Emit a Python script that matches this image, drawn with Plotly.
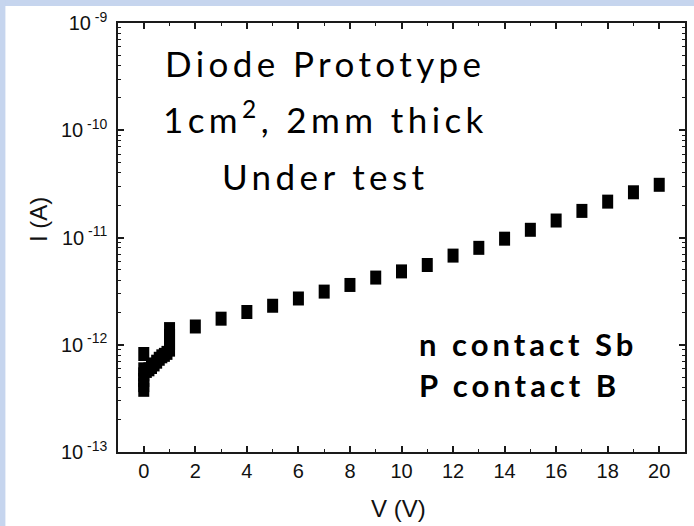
import plotly.graph_objects as go

# ---- data ----
v_low = [0, 0, 0, 0, 0, 0,
         0.1, 0.2, 0.3, 0.4, 0.5, 0.6, 0.7, 0.8, 0.9,
         1, 1, 1, 1]
i_low = [3.8e-13, 4.2e-13, 4.7e-13, 5.3e-13, 5.9e-13, 8.2e-13,
         5.7e-13, 5.9e-13, 6.2e-13, 6.55e-13, 6.95e-13, 7.4e-13, 7.8e-13, 8.05e-13, 8.4e-13,
         9.0e-13, 1.04e-12, 1.21e-12, 1.40e-12]
v_high = [2, 3, 4, 5, 6, 7, 8, 9, 10, 11, 12, 13, 14, 15, 16, 17, 18, 19, 20]
i_high = [1.48e-12, 1.75e-12, 2.02e-12, 2.31e-12, 2.70e-12, 3.13e-12, 3.61e-12, 4.23e-12,
          4.83e-12, 5.54e-12, 6.78e-12, 8.01e-12, 9.75e-12, 1.18e-11, 1.44e-11, 1.77e-11,
          2.16e-11, 2.64e-11, 3.10e-11]

x_ticks = [0, 2, 4, 6, 8, 10, 12, 14, 16, 18, 20]
x_minor = [1, 3, 5, 7, 9, 11, 13, 15, 17, 19]
y_exps = [-13, -12, -11, -10, -9]
y_ticktext = ["10<sup> %d</sup>" % e for e in y_exps]
y_tickvals = [10.0 ** e for e in y_exps]
y_minor = [k * 10.0 ** e for e in y_exps[:-1] for k in range(2, 10)]

title_lines = ["Diode Prototype", "1cm<sup>2</sup>, 2mm thick", "Under test"]
contact_lines = ["n contact Sb", "P contact B"]

# ---- figure ----
V = v_low + v_high
I = i_low + i_high

fig = go.Figure()
fig.add_trace(go.Scatter(
    x=V, y=I, mode="markers",
    marker=dict(symbol="line-ns", size=10, color="black",
                line=dict(color="black", width=11)),
    showlegend=False, hoverinfo="skip"))

L, R, T, B = 118, 687, 23, 452
W, H = 694, 526
pw, ph = R - L, B - T


def px(x):
    return (x - L) / pw


def py(y):
    return (B - y) / ph


axis_common = dict(showline=True, linecolor="#1a1a1a", linewidth=1.5, mirror="ticks",
                   ticks="inside", ticklen=6, tickwidth=1.5, tickcolor="#1a1a1a",
                   showgrid=False, zeroline=False,
                   tickfont=dict(family="Liberation Sans, Arial", size=20, color="#111"))

fig.update_xaxes(range=[-1, 21], tickmode="array", tickvals=x_ticks,
                 minor=dict(tickmode="array", tickvals=x_minor, ticks="inside", ticklen=3,
                            tickwidth=1.3, tickcolor="#1a1a1a"),
                 **axis_common)
fig.update_yaxes(type="log", range=[-13, -9], tickmode="array", tickvals=y_tickvals,
                 ticktext=y_ticktext, ticklabelstandoff=5,
                 minor=dict(tickmode="array", tickvals=y_minor, ticks="inside", ticklen=3,
                            tickwidth=1.3, tickcolor="#1a1a1a"),
                 **axis_common)

annotations = []
title_y = [63, 116.6, 176.3]
for txt, yy in zip(title_lines, title_y):
    annotations.append(dict(
        x=px(326), y=py(yy), xref="paper", yref="paper", xanchor="center", yanchor="middle",
        text='<span style="letter-spacing:4.4px">' + txt + "</span>", showarrow=False,
        font=dict(family="Lato", size=35, color="black")))
contact_y = [344, 384.5]
for txt, yy in zip(contact_lines, contact_y):
    annotations.append(dict(
        x=px(418), y=py(yy), xref="paper", yref="paper", xanchor="left", yanchor="middle",
        text='<b><span style="letter-spacing:4px">' + txt + "</span></b>", showarrow=False,
        font=dict(family="Lato", size=31, color="black")))
annotations.append(dict(x=px(38.7), y=py(219), xref="paper", yref="paper",
                        xanchor="center", yanchor="middle", textangle=-90,
                        text="I (A)", showarrow=False,
                        font=dict(family="Liberation Sans, Arial", size=24, color="#111")))
annotations.append(dict(x=px(399.5), y=py(508.4), xref="paper", yref="paper",
                        xanchor="center", yanchor="middle",
                        text="V (V)", showarrow=False,
                        font=dict(family="Liberation Sans, Arial", size=24, color="#111")))

border = "#c6d5ee"
fig.update_layout(
    width=W, height=H,
    margin=dict(l=L, r=W - R, t=T, b=H - B, pad=0),
    paper_bgcolor="white",
    plot_bgcolor="white",
    annotations=annotations,
    shapes=[
        dict(type="rect", xref="paper", yref="paper", layer="below",
             x0=px(-10), x1=px(W + 10), y0=py(6), y1=py(-10),
             fillcolor=border, line=dict(width=0)),
        dict(type="rect", xref="paper", yref="paper", layer="below",
             x0=px(-10), x1=px(5), y0=py(-10), y1=py(H + 10),
             fillcolor=border, line=dict(width=0)),
    ],
)

page_fix = ("document.body.style.margin='0';document.body.style.padding='0';"
            "document.body.style.overflow='hidden';"
            "document.documentElement.style.overflow='hidden';")
fig.write_html("out.html", post_script=page_fix, config={"displayModeBar": False})
